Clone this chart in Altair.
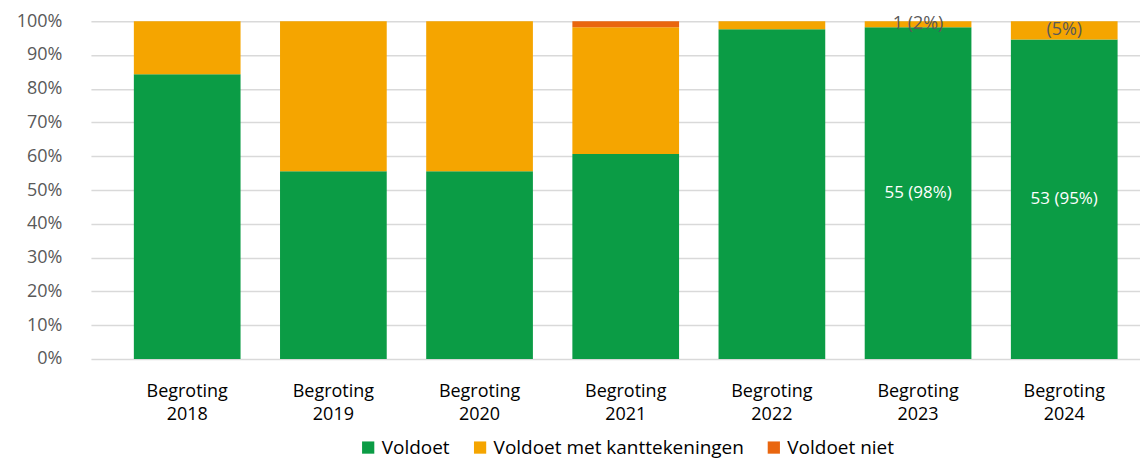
import altair as alt
import pandas as pd

categories = ["Begroting 2018", "Begroting 2019", "Begroting 2020", "Begroting 2021",
              "Begroting 2022", "Begroting 2023", "Begroting 2024"]
voldoet = [84.3, 55.6, 55.6, 60.7, 97.6, 98.2, 94.6]
met_kanttekeningen = [15.7, 44.4, 44.4, 37.5, 2.4, 1.8, 5.4]
voldoet_niet = [0.0, 0.0, 0.0, 1.8, 0.0, 0.0, 0.0]
labels_voldoet = ["", "", "", "", "", "55 (98%)", "53 (95%)"]
labels_kanttekeningen = ["", "", "", "", "", "1 (2%)", "(5%)"]
labels_niet = ["", "", "", "", "", "", ""]
y_ticks = [0.0, 0.1, 0.2, 0.3, 0.4, 0.5, 0.6, 0.7, 0.8, 0.9, 1.0]

series = ["Voldoet", "Voldoet met kanttekeningen", "Voldoet niet"]
colors = ["#0b9c45", "#f5a500", "#e9660f"]

rows = []
for i, cat in enumerate(categories):
    base = 0.0
    for k, (s, vals, labs) in enumerate(zip(series,
                                             [voldoet, met_kanttekeningen, voldoet_niet],
                                             [labels_voldoet, labels_kanttekeningen, labels_niet])):
        v = vals[i] / 100.0
        rows.append(dict(cat=cat, series=s, order=k, start=base, end=base + v,
                         mid=base + v / 2, label=labs[i]))
        base += v
df = pd.DataFrame(rows)

FONT = "Open Sans"

x_axis = alt.Axis(labelAngle=0, domain=False, ticks=False, grid=False,
                  labelExpr="split(datum.label, ' ')", labelFontSize=18,
                  labelColor="#000000", labelPadding=24, labelLineHeight=23,
                  labelFont=FONT)
y_axis = alt.Axis(values=y_ticks, format=".0%", domain=False,
                  ticks=False, grid=True, gridColor="#d9d9d9", gridWidth=1.5,
                  labelFontSize=18, labelColor="#595959", labelPadding=29,
                  labelFont=FONT, labelOverlap=False)
x_scale = alt.Scale(paddingInner=0.27, paddingOuter=0.2235, align=0.657)
y_scale = alt.Scale(domain=[0, 1], nice=False)


def xenc():
    return alt.X("cat:N", sort=categories, title=None, scale=x_scale, axis=x_axis)


bars = alt.Chart(df).mark_bar().encode(
    x=xenc(),
    y=alt.Y("start:Q", scale=y_scale, title=None, axis=y_axis),
    y2="end:Q",
    color=alt.Color("series:N", scale=alt.Scale(domain=series, range=colors), title=None,
                    legend=alt.Legend(orient="none", direction="horizontal",
                                      legendX=268, legendY=417, symbolType="square",
                                      symbolSize=150, symbolStrokeWidth=0,
                                      labelFontSize=19, labelFont=FONT, labelLimit=0,
                                      labelColor="#000000", columnPadding=20,
                                      labelOffset=4)),
)

text_white = alt.Chart(df).transform_filter(
    "datum.label != '' && datum.series == 'Voldoet'"
).mark_text(fontSize=17, font=FONT, color="#ffffff", baseline="middle").encode(
    x=xenc(),
    y=alt.Y("mid:Q", scale=y_scale, title=None, axis=y_axis),
    text="label:N",
)

text_gray = alt.Chart(df).transform_filter(
    "datum.label != '' && datum.series != 'Voldoet'"
).mark_text(fontSize=18, font=FONT, color="#595959", baseline="middle").encode(
    x=xenc(),
    y=alt.Y("mid:Q", scale=y_scale, title=None, axis=y_axis),
    text="label:N",
)

chart = alt.layer(bars, text_white, text_gray).properties(
    width=1050, height=338,
    padding={"left": 83, "top": 13, "right": 0, "bottom": 103},
    autosize=alt.AutoSizeParams(type="none"),
).configure_view(stroke=None).configure_axisY(labelOverlap=False)

chart.save("out.html", embed_options={"renderer": "svg", "actions": False})
